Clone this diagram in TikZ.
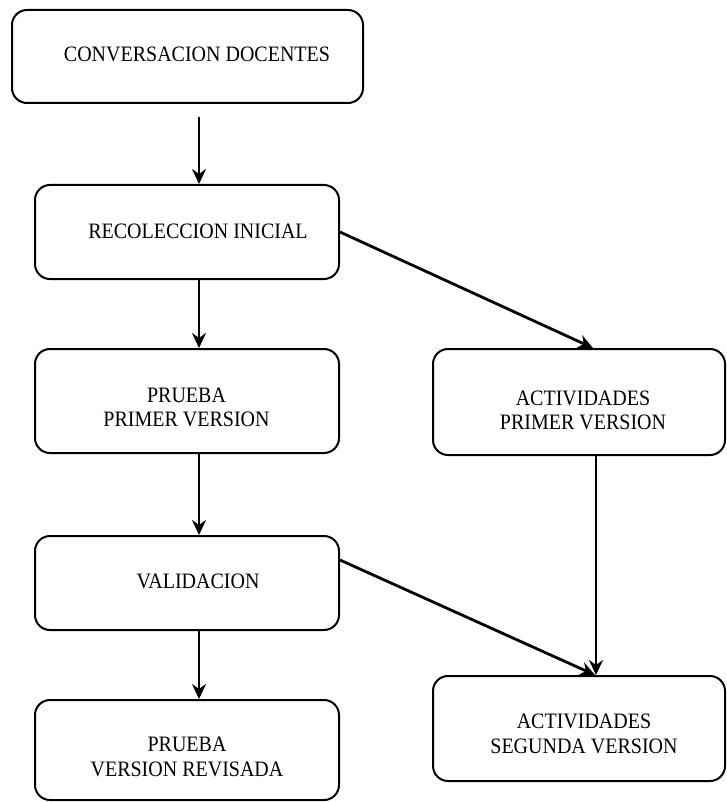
\documentclass[tikz,border=0pt]{standalone}
\usepackage{fontspec}
\usepackage{graphicx}
\setmainfont{Liberation Serif}
\usetikzlibrary{arrows.meta}
\newcommand\stxt[1]{\scalebox{1}[1.1]{\begin{tabular}{@{}c@{}}#1\end{tabular}}}
\begin{document}
\begin{tikzpicture}[x=1pt,y=-1pt,
  box/.style={draw=black,line width=2pt,rounded corners=15pt,inner sep=0pt},
  txt/.style={inner sep=0pt,font=\fontsize{20}{22.5}\selectfont},
  arr/.style={line width=2.8pt,-{Stealth[length=15pt,width=14pt,inset=5pt]}}]
\useasboundingbox (0,0) rectangle (726,802);
% boxes
\node[box,minimum width=351pt,minimum height=93pt] (b1) at (187.5,56.5) {};
\node[box,minimum width=304pt,minimum height=94pt] (b2) at (187,232) {};
\node[box,minimum width=304pt,minimum height=104pt] (b3) at (187,401) {};
\node[box,minimum width=292pt,minimum height=106pt] (b4) at (579,402) {};
\node[box,minimum width=304pt,minimum height=94pt] (b5) at (187,583) {};
\node[box,minimum width=304pt,minimum height=100pt] (b6) at (187,750) {};
\node[box,minimum width=292pt,minimum height=105pt] (b7) at (579,728.5) {};
% texts
\node[txt] (t1) at (197,56.5) {\stxt{CONVERSACION DOCENTES}};
\node[txt] (t2) at (198,233.5) {\stxt{RECOLECCION INICIAL}};
\node[txt] (t3) at (186.5,409.5) {\stxt{PRUEBA\\PRIMER VERSION}};
\node[txt] (t4) at (583,412.5) {\stxt{ACTIVIDADES\\PRIMER VERSION}};
\node[txt] (t5) at (198,583.5) {\stxt{VALIDACION}};
\node[txt] (t6) at (187,759) {\stxt{PRUEBA\\VERSION REVISADA}};
\node[txt] (t7) at (584,736) {\stxt{ACTIVIDADES\\SEGUNDA VERSION}};
% connectors
\coordinate (s1) at ([xshift=11.5pt,yshift=-13pt]b1.south);
\draw[arr] (s1) -- (s1 |- b2.north);
\draw[arr] ([xshift=12pt]b2.south) -- ([xshift=12pt]b3.north);
\draw[arr] ([xshift=12pt]b3.south) -- ([xshift=12pt]b5.north);
\draw[arr] ([xshift=12pt]b5.south) -- ([xshift=12pt]b6.north);
\draw[arr] (b2.east) -- ([xshift=14pt]b4.north);
\draw[arr] ([xshift=17pt]b4.south) -- ([xshift=17pt]b7.north);
\draw[arr] ([yshift=23pt]b5.east) -- ([xshift=16pt]b7.north);
\end{tikzpicture}
\end{document}
